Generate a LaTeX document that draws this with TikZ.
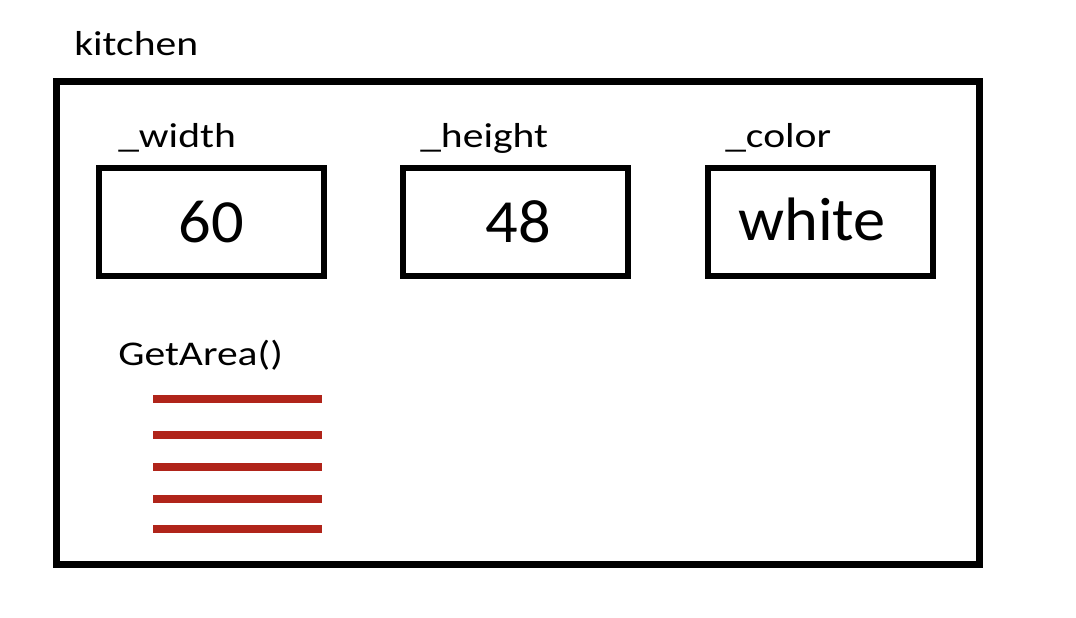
\documentclass[tikz,border=0pt]{standalone}
\usepackage{fontspec}
\setmainfont{Carlito}
\newfontfamily\lblfont[FakeStretch=1.2]{Carlito}
\newfontfamily\valfont[FakeStretch=1.05]{Carlito}
\usetikzlibrary{positioning}

\definecolor{barred}{RGB}{176,36,26}

\tikzset{
  lbl/.style={font=\lblfont\fontsize{26}{30}\selectfont, anchor=base west, inner sep=0pt},
  val/.style={font=\valfont\fontsize{46}{54}\selectfont, anchor=base, inner sep=0pt},
  slot/.style={draw, line width=4.5pt, minimum width=168.75pt, minimum height=81pt, inner sep=0pt},
  bar/.style={draw=barred, line width=5.5pt}
}

\begin{document}
\begin{tikzpicture}[x=0.75pt,y=0.75pt,yscale=-1,xscale=1]
\useasboundingbox (0,0) rectangle (1076,618);

%Object frame
\draw [line width=5.25pt] (56,81) rectangle (979,564) ;
\node [lbl] (kitchen) at (74,55) {kitchen};

%Fields
\node [slot] (wbox) at (211.5,222) {};
\node [slot] (hbox) at (515.5,222) {};
\node [slot] (cbox) at (820.5,222) {};

\node [lbl] (wlbl) at (118,147) {\_width};
\node [lbl] (hlbl) at (420,147) {\_height};
\node [lbl] (clbl) at (725,147) {\_color};

\node [val] (wval) at (211,242) {60};
\node [val] (hval) at (518,242) {48};
\node [val, anchor=base west] (cval) at (738,240) {white};

%Method
\node [lbl] (area) at (118,365) {GetArea()};
\foreach \y in {399,435,467,499,529}
  \draw [bar] (153,\y) -- (322,\y) ;

\end{tikzpicture}
\end{document}
